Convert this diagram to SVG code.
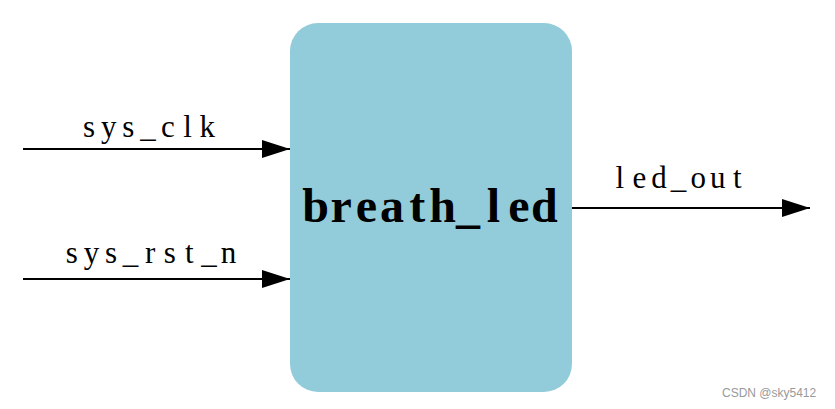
<svg xmlns="http://www.w3.org/2000/svg" width="835" height="409" viewBox="0 0 835 409">
<style>
.lbl{font-family:"Liberation Serif","Times New Roman",serif;font-size:31px;fill:#000;text-anchor:middle}
.big{font-family:"Liberation Serif","Times New Roman",serif;font-size:48px;font-weight:bold;fill:#000;text-anchor:middle}
.wire{stroke:#000;stroke-width:2;fill:none}
.wm{font-family:"Liberation Sans",Arial,sans-serif;font-size:12px;fill:#999}
</style>
<defs>
<marker id="arr" markerWidth="28" markerHeight="18" refX="28" refY="9" orient="auto" markerUnits="userSpaceOnUse">
<path d="M0,0 L28,9 L0,18 Z" fill="#000"/>
</marker>
</defs>
<rect width="835" height="409" fill="#fff"/>
<g id="breath_led">
<rect x="290" y="23" width="282" height="369" rx="28" ry="28" fill="#92CCDB"/>
<text class="big" x="315.7 341.1 366.5 391.9 417.3 442.7 468.1 493.5 518.9 544.3" y="222">breath_led</text>
</g>
<g id="connectors">
<g id="sys_clk">
<line class="wire" x1="23" y1="149" x2="290" y2="149" marker-end="url(#arr)"/>
<text class="lbl" x="89 108.7 128.4 148.1 167.8 187.5 207.2" y="137">sys_clk</text>
</g>
<g id="sys_rst_n">
<line class="wire" x1="23" y1="279" x2="290" y2="279" marker-end="url(#arr)"/>
<text class="lbl" x="71.8 91.4 111 130.6 150.2 169.8 189.4 209 228.6" y="263">sys_rst_n</text>
</g>
<g id="led_out">
<line class="wire" x1="572" y1="208" x2="810" y2="208" marker-end="url(#arr)"/>
<text class="lbl" x="619.8 639.4 659 678.6 698.2 717.8 737.4" y="188">led_out</text>
</g>
</g>
<text class="wm" x="722" y="397">CSDN @sky5412</text>
</svg>
